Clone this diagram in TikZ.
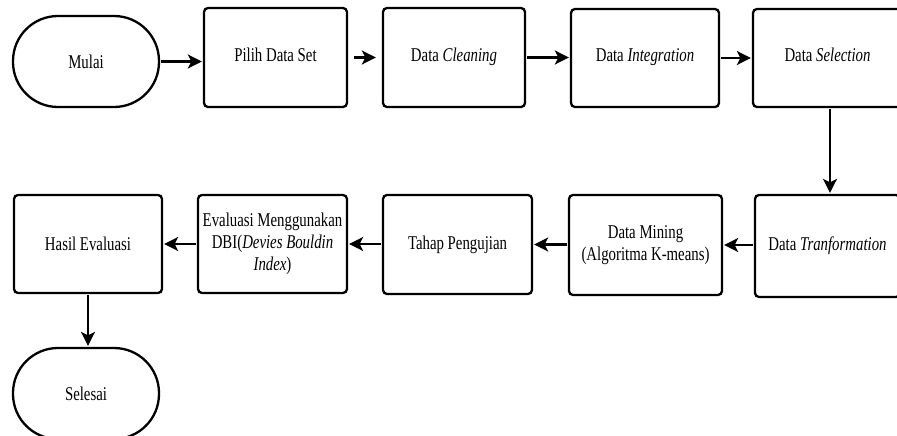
\documentclass[tikz,border=0pt]{standalone}
\usepackage{fontspec}
\setmainfont{Liberation Serif}[FakeStretch=0.76]
\usetikzlibrary{arrows.meta}
\begin{document}
\begin{tikzpicture}[x=1pt,y=-1pt,
  every node/.style={font=\fontsize{19.5}{22}\selectfont, align=center, inner sep=0pt},
  box/.style={draw, line width=2.3pt, rounded corners=4pt, minimum width=#1, minimum height=99pt},
  term/.style={draw, line width=2.3pt, rounded corners=45pt, minimum width=146pt, minimum height=91pt},
  up/.style={text depth=6pt},
  conn/.style={line width=2.3pt, -{Stealth[length=14pt,width=14pt,inset=3.5pt]}, shorten <=1pt, shorten >=1pt}
]
\useasboundingbox (0,0) rectangle (897,436);
\clip (0,0) rectangle (897,436);
\node[term] (mulai) at (86,61.5) {Mulai};
\node[box=143pt, up] (pilih) at (275.5,57.5) {Pilih Data Set};
\node[box=142pt, up] (clean) at (454,57.5) {Data \textit{Cleaning}};
\node[box=148pt, minimum height=98pt, up] (integ) at (645,58) {Data \textit{Integration}};
\node[box=149pt, minimum height=98pt, up] (select) at (827.5,58) {Data \textit{Selection}};
\node[box=145pt, minimum height=102pt] (trans) at (827.5,246) {Data \textit{Tranformation}};
\node[box=153pt, minimum height=100pt] (mining) at (645.5,245) {Data Mining\\(Algoritma K-means)};
\node[box=149pt] (tahap) at (457.5,244.5) {Tahap Pengujian};
\node[box=149pt, minimum height=98pt] (eval) at (272.5,244) {Evaluasi Menggunakan\\DBI(\textit{Devies Bouldin}\\\textit{Index})};
\node[box=148pt, minimum height=98pt] (hasil) at (88,244) {Hasil Evaluasi};
\node[term] (selesai) at (86,393.5) {Selesai};
\draw[conn] (mulai) -- (pilih.west |- mulai);
\draw[conn, shorten <=6pt, shorten >=6pt] (pilih) -- (clean);
\draw[conn] (clean) -- (integ.west |- clean);
\draw[conn] (integ) -- (select);
\draw[conn] ([xshift=2.5pt]select.south) -- ([xshift=2.5pt]trans.north);
\draw[conn] (trans.west |- mining) -- (mining);
\draw[conn] (mining.west |- tahap) -- (tahap);
\draw[conn] (tahap.west |- eval) -- (eval);
\draw[conn] (eval) -- (hasil);
\draw[conn] (hasil.south) -- (hasil.south |- selesai.north);
\end{tikzpicture}
\end{document}
